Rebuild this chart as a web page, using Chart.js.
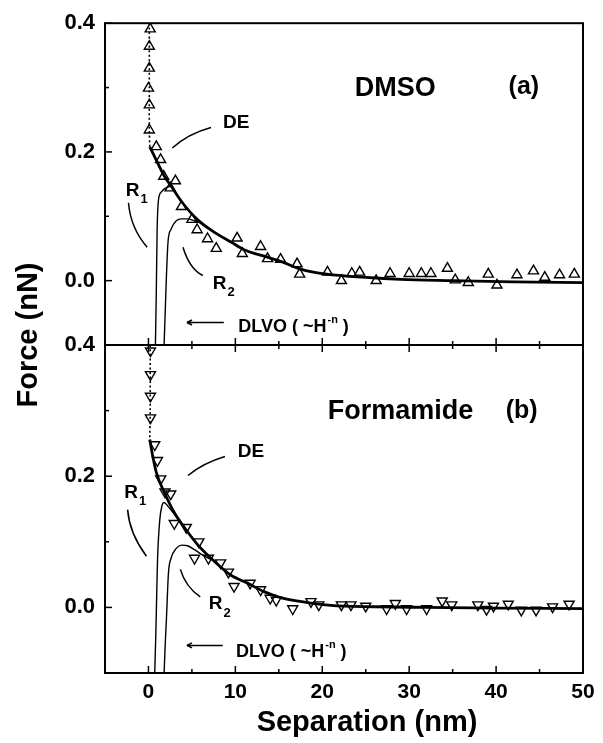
<!DOCTYPE html>
<html>
<head>
<meta charset="utf-8">
<script src="https://cdn.jsdelivr.net/npm/chart.js@4.4.1/dist/chart.umd.min.js"></script>
<style>
  body { margin: 0; background: #fff; }
  #wrap { position: relative; width: 603px; height: 743px; background: #fff; }
  #wrap canvas { position: absolute; left: 0; top: 0; }
</style>
</head>
<body>
<div id="wrap">
  <canvas id="panelA" width="603" height="743"></canvas>
  <canvas id="panelB" width="603" height="743"></canvas>
</div>
<script>
  const FONT = "'Liberation Sans', Arial, Helvetica, sans-serif";

  // axis ticks
  const xTicks = [0, 10, 20, 30, 40, 50];
  const xMinorTicks = [-5, 5, 15, 25, 35, 45];
  const yTicks = [0, 0.2, 0.4];
  const yMinorTicks = [-0.1, 0.1, 0.3];

  // (a) DMSO - measured points
  const dmsoX = [0.2, 0.1, 0.1, 0.0, 0.1, 0.1, 0.9, 1.4, 1.75, 2.5, 3.1, 3.8, 5.0, 5.6, 6.8, 7.8, 10.2, 10.8,
    12.9, 13.7, 15.2, 17.1, 17.4, 20.6, 22.2, 23.4, 24.3, 26.2, 27.8, 30.0, 31.4, 32.5, 34.4, 35.3, 36.8,
    39.1, 40.1, 42.4, 44.3, 45.6, 47.3, 49.0];
  const dmsoY = [0.391, 0.364, 0.330, 0.299, 0.273, 0.234, 0.208, 0.188, 0.162, 0.144, 0.155, 0.115, 0.095,
    0.079, 0.065, 0.050, 0.066, 0.042, 0.053, 0.034, 0.033, 0.026, 0.010, 0.013, 0.000, 0.011, 0.013, 0.000,
    0.011, 0.011, 0.011, 0.011, 0.019, 0.001, -0.003, 0.010, -0.007, 0.009, 0.015, 0.005, 0.009, 0.010];
  // dotted guide at contact
  const dmsoDotX = [0.1, 0.1, 0.1, 0.15];
  const dmsoDotY = [0.40, 0.30, 0.235, 0.208];
  // DE fit
  const dmsoDeX = [0.15, 0.8, 1.8, 2.6, 3.8, 5.7, 7.6, 9.5, 11, 13.3, 15.2, 17.5, 20.5, 25, 29, 35, 42, 50];
  const dmsoDeY = [0.208, 0.19, 0.163, 0.147, 0.123, 0.094, 0.075, 0.060, 0.048, 0.038, 0.030, 0.018, 0.010,
    0.005, 0.002, 0.000, -0.002, -0.003];
  // DLVO curves
  const dmsoR1X = [0.8, 0.9, 1.0, 1.15, 1.5, 2.0, 2.6];
  const dmsoR1Y = [-0.1, -0.02, 0.08, 0.125, 0.138, 0.144, 0.147];
  const dmsoR2X = [1.8, 1.95, 2.05, 2.25, 2.6, 3.2, 3.8, 4.5, 5.3, 6.0];
  const dmsoR2Y = [-0.1, -0.04, 0.0, 0.06, 0.08, 0.093, 0.096, 0.096, 0.093, 0.090];

  // (b) Formamide - measured points
  const formX = [0.23, 0.23, 0.23, 0.23, 0.72, 1.03, 1.41, 1.9, 2.56, 2.97, 4.35, 5.8, 5.3, 6.9, 8.3, 9.2, 9.85,
    11.7, 12.9, 14.0, 14.7, 16.6, 18.7, 19.6, 22.2, 23.3, 25.0, 27.4, 28.4, 29.7, 32.0, 33.8, 34.9, 37.9, 38.9,
    39.7, 41.4, 42.9, 44.6, 46.5, 48.4];
  const formY = [0.391, 0.355, 0.322, 0.289, 0.248, 0.224, 0.196, 0.176, 0.173, 0.128, 0.122, 0.100, 0.075,
    0.075, 0.068, 0.054, 0.032, 0.037, 0.027, 0.014, 0.011, -0.002, 0.009, 0.004, 0.004, 0.004, 0.002, -0.002,
    0.006, -0.002, -0.002, 0.010, 0.004, 0.004, -0.003, 0.002, 0.005, -0.004, -0.004, 0.001, 0.005];
  const formDotX = [0.2, 0.2, 0.15];
  const formDotY = [0.40, 0.30, 0.256];
  const formDeX = [0.15, 0.5, 0.92, 1.87, 3.0, 4.35, 5.7, 7.6, 9.5, 11.4, 13.3, 15.2, 18, 21, 26, 32, 40, 50];
  const formDeY = [0.256, 0.23, 0.205, 0.174, 0.144, 0.118, 0.095, 0.070, 0.049, 0.037, 0.024, 0.015, 0.008,
    0.003, 0.001, 0.000, -0.001, -0.002];
  const formR1X = [0.72, 0.85, 0.95, 1.05, 1.3, 1.57, 1.8, 2.25, 2.8, 3.2];
  const formR1Y = [-0.1, -0.04, 0.02, 0.075, 0.133, 0.156, 0.160, 0.154, 0.145, 0.139];
  const formR2X = [1.8, 1.95, 2.06, 2.3, 2.6, 3.2, 3.8, 4.5, 5.3, 6.2, 7.2];
  const formR2Y = [-0.1, -0.05, -0.02, 0.052, 0.075, 0.090, 0.095, 0.094, 0.088, 0.080, 0.073];

  const pts = (xs, ys) => xs.map((x, i) => ({ x, y: ys[i] }));

  // draw a quadratic curve passing through three points (data coords)
  function curveThrough(ctx, sx, sy, p) {
    const x0 = sx(p[0]), y0 = sy(p[1]), x1 = sx(p[2]), y1 = sy(p[3]), x2 = sx(p[4]), y2 = sy(p[5]);
    const cx = 2 * x1 - (x0 + x2) / 2, cy = 2 * y1 - (y0 + y2) / 2;
    ctx.beginPath();
    ctx.moveTo(x0, y0);
    ctx.quadraticCurveTo(cx, cy, x2, y2);
    ctx.stroke();
  }

  function subLabel(ctx, px, py, main, sub) {
    ctx.font = 'bold 19px ' + FONT;
    ctx.textAlign = 'left';
    ctx.textBaseline = 'middle';
    const w = ctx.measureText(main).width;
    ctx.fillText(main, px - w / 2, py);
    ctx.font = 'bold 13px ' + FONT;
    ctx.fillText(sub, px + w / 2 + 1, py + 9);
  }

  function panelPlugin(cfg) {
    return {
      id: 'panelDecor',
      afterDatasetsDraw(chart) {
        const { ctx, chartArea: a, scales: { x, y } } = chart;
        const sx = v => x.getPixelForValue(v);
        const sy = v => y.getPixelForValue(v);
        const line = (x1, y1, x2, y2) => { ctx.beginPath(); ctx.moveTo(x1, y1); ctx.lineTo(x2, y2); ctx.stroke(); };
        ctx.save();
        ctx.strokeStyle = '#000';
        ctx.fillStyle = '#000';

        // frame
        ctx.lineWidth = 2;
        ctx.strokeRect(a.left, a.top, a.right - a.left, a.bottom - a.top);

        // inward ticks
        ctx.lineWidth = 1.5;
        xTicks.forEach(v => {
          line(sx(v), a.bottom, sx(v), a.bottom - 7);
          if (cfg.topTicks) line(sx(v), a.top, sx(v), a.top + 7);
        });
        xMinorTicks.forEach(v => {
          line(sx(v), a.bottom, sx(v), a.bottom - 4);
          if (cfg.topTicks) line(sx(v), a.top, sx(v), a.top + 4);
        });
        yTicks.forEach(v => line(a.left, sy(v), a.left + 7, sy(v)));
        yMinorTicks.forEach(v => line(a.left, sy(v), a.left + 4, sy(v)));

        // pointer strokes
        ctx.lineWidth = 1.5;
        cfg.strokes.forEach(p => curveThrough(ctx, sx, sy, p));

        // DLVO arrow
        const ar = cfg.arrow;
        const ax1 = sx(ar[0]), ax2 = sx(ar[1]), ay = sy(ar[2]);
        line(ax1, ay, ax2, ay);
        line(ax2, ay, ax2 + 5, ay - 2.5);
        line(ax2, ay, ax2 + 5, ay + 2.5);

        // labels
        ctx.textBaseline = 'middle';
        ctx.textAlign = 'center';
        ctx.font = 'bold 27px ' + FONT;
        ctx.fillText(cfg.name, sx(cfg.namePos[0]), sy(cfg.namePos[1]));
        ctx.font = 'bold 25px ' + FONT;
        ctx.fillText(cfg.tag, sx(cfg.tagPos[0]), sy(cfg.tagPos[1]));
        ctx.font = 'bold 19px ' + FONT;
        ctx.fillText('DE', sx(cfg.dePos[0]), sy(cfg.dePos[1]));
        subLabel(ctx, sx(cfg.r1Pos[0]), sy(cfg.r1Pos[1]), 'R', '1');
        subLabel(ctx, sx(cfg.r2Pos[0]), sy(cfg.r2Pos[1]), 'R', '2');

        // DLVO ( ~H^-n )
        let tx = sx(cfg.dlvoPos[0]);
        const ty = sy(cfg.dlvoPos[1]);
        ctx.textAlign = 'left';
        ctx.font = 'bold 18px ' + FONT;
        ctx.fillText('DLVO ( ~H', tx, ty);
        tx += ctx.measureText('DLVO ( ~H').width;
        ctx.font = 'bold 11px ' + FONT;
        ctx.fillText('-n', tx + 1, ty - 7);
        tx += ctx.measureText('-n').width + 1;
        ctx.font = 'bold 18px ' + FONT;
        ctx.fillText(' )', tx, ty);

        // shared axis titles (drawn once on lower panel)
        if (cfg.titles) {
          ctx.font = 'bold 29px ' + FONT;
          ctx.textAlign = 'center';
          ctx.fillText('Separation (nm)', 367, 723);
          ctx.save();
          ctx.translate(29, 335);
          ctx.rotate(-Math.PI / 2);
          ctx.fillText('Force (nN)', 0, 0);
          ctx.restore();
        }
        ctx.restore();
      }
    };
  }

  function makePanel(id, cfg) {
    return new Chart(document.getElementById(id), {
      type: 'line',
      data: {
        datasets: [
          {
            data: pts(cfg.markX, cfg.markY), showLine: false, pointStyle: 'triangle', rotation: cfg.rot,
            pointRadius: 5.8, pointBorderWidth: 1.4, pointBorderColor: '#000',
            pointBackgroundColor: 'rgba(255,255,255,0)'
          },
          {
            data: pts(cfg.deX, cfg.deY), borderColor: '#000', borderWidth: 2.8, pointRadius: 0,
            cubicInterpolationMode: 'monotone'
          },
          {
            data: pts(cfg.r1X, cfg.r1Y), borderColor: '#000', borderWidth: 1.4, pointRadius: 0,
            cubicInterpolationMode: 'monotone'
          },
          {
            data: pts(cfg.r2X, cfg.r2Y), borderColor: '#000', borderWidth: 1.4, pointRadius: 0,
            cubicInterpolationMode: 'monotone'
          },
          {
            data: pts(cfg.dotX, cfg.dotY), borderColor: '#000', borderWidth: 1.6, borderDash: [2, 2.5],
            pointRadius: 0, tension: 0.3
          }
        ]
      },
      options: {
        responsive: false,
        animation: false,
        events: [],
        layout: { padding: { left: 0, right: 20, top: cfg.padTop, bottom: cfg.padBottom } },
        plugins: { legend: { display: false }, tooltip: { enabled: false } },
        scales: {
          x: {
            type: 'linear', min: -5, max: 50, display: cfg.showX,
            grid: { display: false, drawTicks: false }, border: { display: false },
            afterBuildTicks: s => { s.ticks = xTicks.map(v => ({ value: v })); },
            afterFit: s => { s.height = cfg.showX ? 70 : 0; },
            ticks: { color: '#000', font: { family: FONT, size: 21, weight: 'bold' }, padding: 7,
              maxRotation: 0, autoSkip: false }
          },
          y: {
            type: 'linear', min: -0.1, max: 0.4,
            grid: { display: false, drawTicks: false }, border: { display: false },
            afterBuildTicks: s => { s.ticks = yTicks.map(v => ({ value: v })); },
            afterFit: s => { s.width = 105; },
            ticks: { color: '#000', font: { family: FONT, size: 22, weight: 'bold' }, padding: 10,
              autoSkip: false, callback: v => v.toFixed(1) }
          }
        }
      },
      plugins: [panelPlugin(cfg)]
    });
  }

  makePanel('panelA', {
    markX: dmsoX, markY: dmsoY, rot: 0,
    deX: dmsoDeX, deY: dmsoDeY, r1X: dmsoR1X, r1Y: dmsoR1Y, r2X: dmsoR2X, r2Y: dmsoR2Y,
    dotX: dmsoDotX, dotY: dmsoDotY,
    padTop: 17, padBottom: 398, showX: false, topTicks: false, titles: false,
    strokes: [[7.2, 0.238, 4.73, 0.225, 2.75, 0.206], [-2.3, 0.121, -1.64, 0.084, -0.15, 0.052],
      [3.97, 0.052, 4.93, 0.024, 6.26, 0.008]],
    arrow: [8.67, 4.43, -0.065],
    name: 'DMSO', namePos: [28.4, 0.298], tag: '(a)', tagPos: [43.2, 0.301],
    dePos: [10.1, 0.246], r1Pos: [-1.83, 0.140], r2Pos: [8.2, -0.005], dlvoPos: [10.34, -0.0725]
  });

  makePanel('panelB', {
    markX: formX, markY: formY, rot: 180,
    deX: formDeX, deY: formDeY, r1X: formR1X, r1Y: formR1Y, r2X: formR2X, r2Y: formR2Y,
    dotX: formDotX, dotY: formDotY,
    padTop: 345, padBottom: 0, showX: true, topTicks: true, titles: true,
    strokes: [[8.8, 0.230, 6.45, 0.2176, 4.55, 0.201], [-2.4, 0.149, -1.75, 0.113, -0.23, 0.078],
      [3.67, 0.058, 4.55, 0.034, 5.96, 0.016]],
    arrow: [8.55, 4.43, -0.058],
    name: 'Formamide', namePos: [29.0, 0.299], tag: '(b)', tagPos: [42.95, 0.299],
    dePos: [11.8, 0.237], r1Pos: [-2.0, 0.175], r2Pos: [7.73, 0.005], dlvoPos: [10.08, -0.068]
  });
</script>
</body>
</html>
